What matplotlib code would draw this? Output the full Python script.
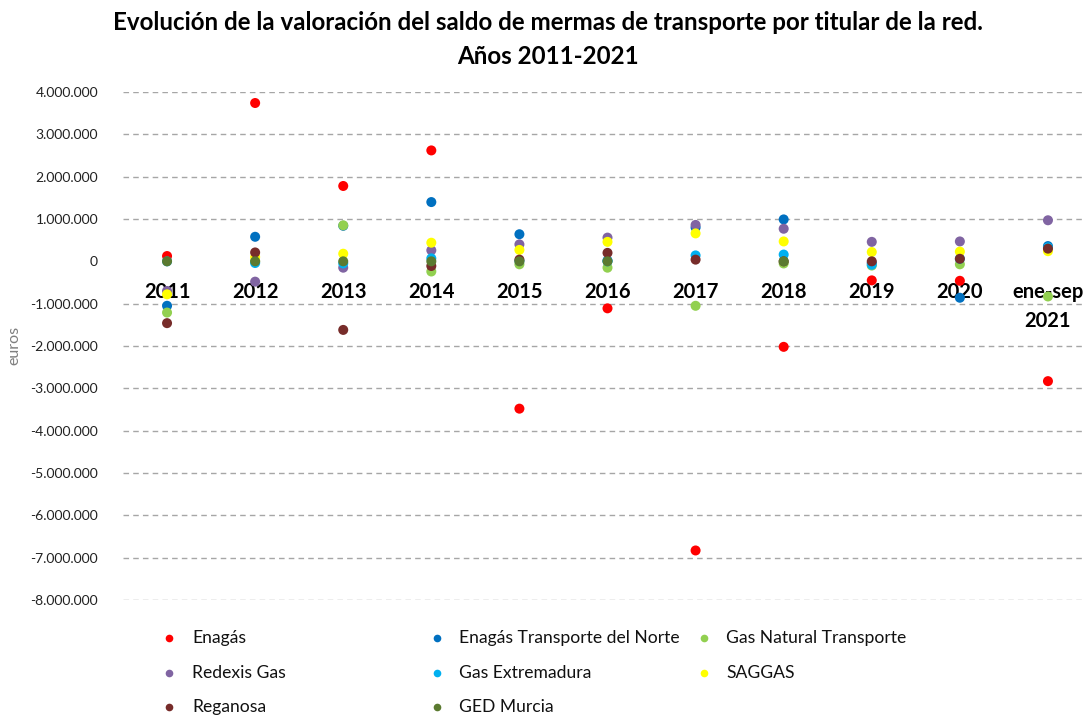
import matplotlib
matplotlib.use("Agg")
import matplotlib.pyplot as plt
import numpy as np
from matplotlib.lines import Line2D
from matplotlib.ticker import FuncFormatter

plt.rcParams['font.family'] = ['Lato', 'DejaVu Sans']

categories = ["2011", "2012", "2013", "2014", "2015", "2016", "2017", "2018", "2019", "2020", "ene-sep\n2021"]

enagas = [125000, 3740000, 1780000, 2620000, -3480000, -1110000, -6830000, -2020000, -450000, -460000, -2830000]
etn = [-1050000, 580000, 840000, 1400000, 640000, 20000, 800000, 990000, -40000, -860000, 360000]
gnt = [-1210000, 0, 850000, -240000, -70000, -150000, -1050000, -50000, -100000, -70000, -830000]
redexis = [-700000, -480000, -150000, 260000, 400000, 560000, 860000, 770000, 460000, 470000, 970000]
gas_ext = [0, -40000, -50000, 70000, 10000, 0, 140000, 160000, -80000, 60000, 330000]
saggas = [-780000, 100000, 180000, 440000, 270000, 460000, 660000, 470000, 220000, 230000, 240000]
reganosa = [-1460000, 210000, -1620000, -110000, 40000, 200000, 40000, 0, 0, 60000, 300000]
ged_murcia = [0, 0, 0, 0, 0, 0, np.nan, 0, np.nan, np.nan, np.nan]

series_names = ["Enagás", "Enagás Transporte del Norte", "Gas Natural Transporte",
                "Redexis Gas", "Gas Extremadura", "SAGGAS", "Reganosa", "GED Murcia"]
series_values = [enagas, etn, gnt, redexis, gas_ext, saggas, reganosa, ged_murcia]
series_colors = ["#FF0000", "#0070C0", "#92D050", "#8064A2", "#00B0F0", "#FFFF00", "#772C2A", "#5B7A30"]

W, H = 1084, 719
fig = plt.figure(figsize=(W / 100, H / 100), dpi=100)
ax = fig.add_axes([123 / W, (H - 600) / H, (1092 - 123) / W, 508 / H])

x = np.arange(len(categories))
for vals, col, name in zip(series_values, series_colors, series_names):
    ax.scatter(x, vals, s=52, color=col, edgecolors='none', zorder=3, label=name)

ax.set_xlim(-0.5, len(categories) - 0.5)
ax.set_ylim(-8000000, 4000000)
yt = np.arange(-8000000, 4000001, 1000000)
ax.set_yticks(yt)
ax.yaxis.set_major_formatter(FuncFormatter(lambda v, p: f"{int(v):,}".replace(",", ".")))
ax.tick_params(axis='y', length=0, labelsize=10, colors='#222222', pad=18)
ax.set_xticks([])
for s in ax.spines.values():
    s.set_visible(False)
for v in yt:
    if v != 0:
        ax.axhline(v, color='#A6A6A6', lw=1.0, ls=(0, (4, 3)), zorder=1)

for xi, lab in zip(x, categories):
    ax.text(xi, -500000, lab, ha='center', va='top', fontsize=14.5, fontweight='bold',
            linespacing=1.55, zorder=2)

fig.text(14 / W, 1 - 345 / H, "euros", rotation=90, ha='center', va='center',
         fontsize=11.5, color='#7F7F7F')

fig.text(548 / W, 1 - 23 / H, "Evolución de la valoración del saldo de mermas de transporte por titular de la red.",
         ha='center', va='center', fontsize=17.4, fontweight='bold')
fig.text(548 / W, 1 - 56 / H, "Años 2011-2021", ha='center', va='center', fontsize=17.4, fontweight='bold')

# Legend in three columns (row-major order), placed manually
order = [0, 1, 2, 3, 4, 5, 6, 7]
marker_x = [169, 437, 704]
text_x = [192, 459, 726]
row_y = [638, 673, 707]
for k, i in enumerate(order):
    r, c = divmod(k, 3)
    fig.add_artist(Line2D([marker_x[c] / W], [1 - row_y[r] / H], transform=fig.transFigure,
                          marker='o', ls='none', markersize=5.5,
                          markerfacecolor=series_colors[i], markeredgecolor='none'))
    fig.text(text_x[c] / W, 1 - row_y[r] / H, series_names[i], ha='left', va='center',
             fontsize=12.6, color='#111111')

fig.savefig("out.png", dpi=100)
